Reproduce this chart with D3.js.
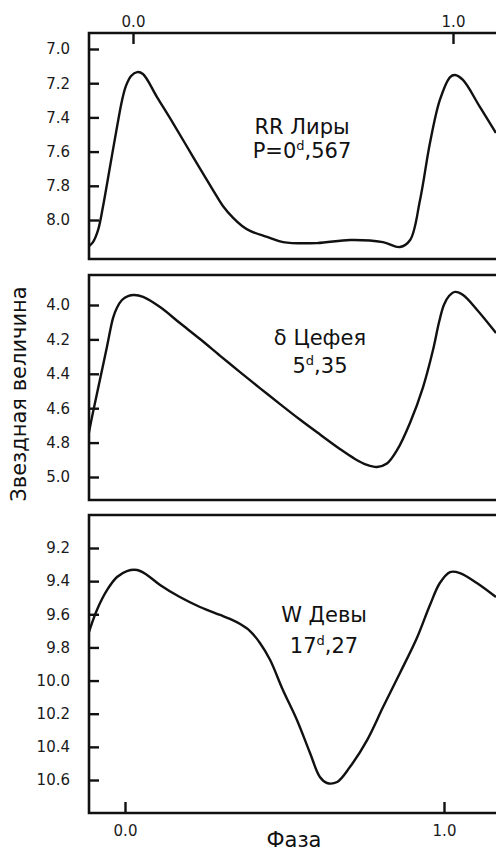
<!DOCTYPE html>
<html>
<head>
<meta charset="utf-8">
<script src="https://cdn.jsdelivr.net/npm/d3@7"></script>
<style>
  body { margin: 0; background: #fff; }
  text { font-family: "DejaVu Sans", sans-serif; }
</style>
</head>
<body>
<script>
// RR Лиры
const rrPhase = [-0.141, -0.125, -0.109, -0.094, -0.072, -0.050, -0.034, -0.022, -0.006, 0.013, 0.031, 0.075, 0.125, 0.188, 0.250, 0.281, 0.313, 0.341, 0.366, 0.419, 0.469, 0.575, 0.678, 0.781, 0.834, 0.866, 0.897, 0.928, 0.959, 0.991, 1.006, 1.031, 1.084, 1.134]
const rrMag   = [8.158, 8.129, 8.058, 7.924, 7.690, 7.456, 7.298, 7.216, 7.158, 7.135, 7.146, 7.281, 7.433, 7.632, 7.825, 7.918, 7.988, 8.035, 8.064, 8.099, 8.129, 8.135, 8.117, 8.129, 8.158, 8.117, 7.883, 7.550, 7.298, 7.164, 7.152, 7.181, 7.339, 7.491]
// δ Цефея
const cepPhase = [-0.128, -0.113, -0.091, -0.069, -0.050, -0.038, -0.022, -0.003, 0.016, 0.044, 0.097, 0.159, 0.222, 0.284, 0.347, 0.409, 0.472, 0.534, 0.597, 0.659, 0.706, 0.744, 0.775, 0.806, 0.838, 0.878, 0.919, 0.950, 0.969, 0.984, 1.000, 1.019, 1.044, 1.088, 1.147]
const cepMag   = [4.767, 4.628, 4.436, 4.244, 4.076, 4.017, 3.971, 3.948, 3.942, 3.953, 4.012, 4.105, 4.198, 4.294, 4.390, 4.483, 4.576, 4.666, 4.753, 4.837, 4.895, 4.930, 4.942, 4.922, 4.843, 4.686, 4.477, 4.262, 4.099, 4.000, 3.948, 3.924, 3.942, 4.029, 4.163]
// W Девы
const wPhase = [-0.113, -0.088, -0.056, -0.025, 0.006, 0.038, 0.069, 0.110, 0.172, 0.235, 0.298, 0.329, 0.361, 0.392, 0.423, 0.455, 0.495, 0.539, 0.580, 0.611, 0.633, 0.665, 0.705, 0.759, 0.809, 0.862, 0.915, 0.956, 0.987, 1.019, 1.050, 1.103, 1.163]
const wMag   = [9.707, 9.574, 9.453, 9.375, 9.339, 9.333, 9.363, 9.423, 9.496, 9.556, 9.604, 9.628, 9.659, 9.701, 9.773, 9.876, 10.057, 10.238, 10.437, 10.582, 10.618, 10.612, 10.522, 10.359, 10.160, 9.954, 9.743, 9.544, 9.411, 9.345, 9.351, 9.411, 9.496]

const rrTicks = [7.0, 7.2, 7.4, 7.6, 7.8, 8.0]
const cepTicks = [4.0, 4.2, 4.4, 4.6, 4.8, 5.0]
const wTicks = [9.2, 9.4, 9.6, 9.8, 10.0, 10.2, 10.4, 10.6]
const phaseTicks = [0.0, 1.0]

const w = 496
const h = 851
const left = 89

const panels = [
  { phase: rrPhase, mag: rrMag, ticks: rrTicks, top: 33, bottom: 259, yDom: [7, 8], yRng: [49, 220], xRng: [133, 453],
    label: ['RR Лиры', 'P=0', 'd', ',567'], lx: 302, ly: 134, ly2: 158, axis: 'top' },
  { phase: cepPhase, mag: cepMag, ticks: cepTicks, top: 275, bottom: 500, yDom: [4, 5], yRng: [305, 477], xRng: [129, 449],
    label: ['δ Цефея', '5', 'd', ',35'], lx: 320, ly: 345, ly2: 373, axis: null },
  { phase: wPhase, mag: wMag, ticks: wTicks, top: 515, bottom: 813, yDom: [9.2, 10.6], yRng: [548, 780], xRng: [125, 444],
    label: ['W Девы', '17', 'd', ',27'], lx: 324, ly: 622, ly2: 653, axis: 'bottom' }
]

const svg = d3.select('body')
  .append('svg')
  .attr('width', w)
  .attr('height', h)

svg.append('rect').attr('width', w).attr('height', h).attr('fill', '#fff')

panels.forEach((p, i) => {
  const xScale = d3.scaleLinear().domain([0, 1]).range(p.xRng)
  const yScale = d3.scaleLinear().domain(p.yDom).range(p.yRng)

  svg.append('clipPath')
    .attr('id', 'clip' + i)
    .append('rect')
    .attr('x', left)
    .attr('y', p.top)
    .attr('width', w - left)
    .attr('height', p.bottom - p.top)

  const line = d3.line()
    .x(d => xScale(d[0]))
    .y(d => yScale(d[1]))
    .curve(d3.curveCatmullRom.alpha(0.5))

  svg.append('path')
    .datum(p.phase.map((ph, j) => [ph, p.mag[j]]))
    .attr('clip-path', 'url(#clip' + i + ')')
    .attr('d', line)
    .attr('fill', 'none')
    .attr('stroke', '#111')
    .attr('stroke-width', 2.4)

  // y axis
  const yAxis = d3.axisLeft(yScale)
    .tickValues(p.ticks)
    .tickFormat(d3.format('.1f'))
    .tickSizeInner(-10)
    .tickSizeOuter(0)
    .tickPadding(19)
  const gy = svg.append('g')
    .attr('transform', 'translate(' + left + ',0)')
    .call(yAxis)
  gy.select('.domain').remove()
  gy.selectAll('line').attr('stroke', '#111').attr('stroke-width', 2.4)
  gy.selectAll('text').attr('font-size', 15).attr('fill', '#1a1a1a').attr('font-family', '"DejaVu Sans", sans-serif')

  // x axis
  if (p.axis) {
    const xAxis = (p.axis === 'top' ? d3.axisTop(xScale) : d3.axisBottom(xScale))
      .tickValues(phaseTicks)
      .tickFormat(d3.format('.1f'))
      .tickSizeInner(-11)
      .tickSizeOuter(0)
      .tickPadding(p.axis === 'top' ? 6 : 12)
    const gx = svg.append('g')
      .attr('transform', 'translate(0,' + (p.axis === 'top' ? p.top : p.bottom) + ')')
      .call(xAxis)
    gx.select('.domain').remove()
    gx.selectAll('line').attr('stroke', '#111').attr('stroke-width', 2.4)
    gx.selectAll('text').attr('font-size', 15).attr('fill', '#1a1a1a').attr('font-family', '"DejaVu Sans", sans-serif')
  }

  // frame
  svg.append('path')
    .attr('d', 'M' + w + ',' + p.top + 'H' + left + 'V' + p.bottom + 'H' + w)
    .attr('stroke', '#111')
    .attr('stroke-width', 2.6)
    .attr('fill', 'none')

  // label
  svg.append('text')
    .attr('x', p.lx)
    .attr('y', p.ly)
    .attr('text-anchor', 'middle')
    .attr('font-size', 21)
    .attr('fill', '#111')
    .text(p.label[0])
  const t2 = svg.append('text')
    .attr('x', p.lx)
    .attr('y', p.ly2)
    .attr('text-anchor', 'middle')
    .attr('font-size', 21)
    .attr('fill', '#111')
  t2.append('tspan').text(p.label[1])
  t2.append('tspan').attr('font-size', 13).attr('dy', -8).text(p.label[2])
  t2.append('tspan').attr('dy', 8).text(p.label[3])
})

svg.append('text')
  .attr('transform', 'translate(26,394) rotate(-90)')
  .attr('text-anchor', 'middle')
  .attr('font-size', 21)
  .attr('fill', '#111')
  .text('Звездная величина')

svg.append('text')
  .attr('x', 294)
  .attr('y', 847)
  .attr('text-anchor', 'middle')
  .attr('font-size', 21)
  .attr('fill', '#111')
  .text('Фаза')
</script>
</body>
</html>
